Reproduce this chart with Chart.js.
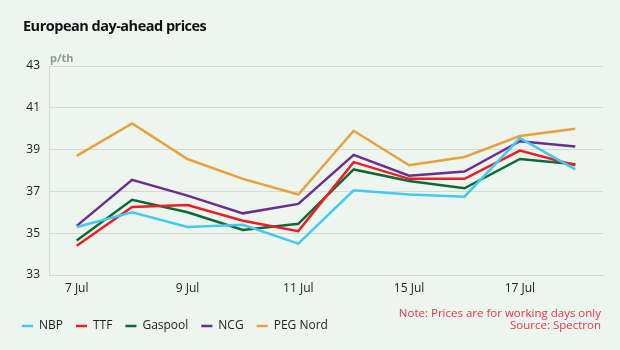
<!DOCTYPE html>
<html>
<head>
<meta charset="utf-8">
<script src="https://cdn.jsdelivr.net/npm/chart.js@4/dist/chart.umd.min.js"></script>
<style>
  html, body { margin: 0; padding: 0; background: #edf5ef; }
  #wrap { position: relative; width: 620px; height: 350px; overflow: hidden; background: #edf5ef; font-family: "Open Sans", "Noto Sans", sans-serif; }
  #title { position: absolute; left: 23px; top: 16px; font-size: 14.5px; line-height: 20px; font-weight: bold; color: #111; letter-spacing: -0.5px; white-space: nowrap; }
  #unit { position: absolute; left: 50px; top: 50px; font-size: 11px; font-weight: bold; color: #8f9894; }
  #note { position: absolute; right: 19px; top: 307px; font-size: 11.5px; color: #e8344a; text-align: right; line-height: 11.5px; white-space: nowrap; }
  #c { position: absolute; left: 0; top: 0; }
</style>
</head>
<body>
<div id="wrap">
  <canvas id="c" width="620" height="350"></canvas>
  <div id="title">European day-ahead prices</div>
  <div id="unit">p/th</div>
  <div id="note">Note: Prices are for working days only<br>Source: Spectron</div>
</div>
<script>
const categories = ['7 Jul','8 Jul','9 Jul','10 Jul','11 Jul','14 Jul','15 Jul','16 Jul','17 Jul','18 Jul'];
const nbp     = [35.3, 36.0, 35.3, 35.4, 34.5, 37.05, 36.85, 36.75, 39.55, 38.05];
const ttf     = [34.4, 36.25, 36.35, 35.6, 35.1, 38.4, 37.6, 37.6, 38.95, 38.25];
const gaspool = [34.65, 36.6, 36.0, 35.15, 35.45, 38.05, 37.5, 37.15, 38.55, 38.3];
const ncg     = [35.35, 37.55, 36.8, 35.95, 36.4, 38.75, 37.75, 37.95, 39.4, 39.15];
const pegNord = [38.7, 40.25, 38.55, 37.6, 36.85, 39.9, 38.25, 38.65, 39.65, 40.0];
const yTicks  = [33, 35, 37, 39, 41, 43];

const font = "'Open Sans', 'Noto Sans', sans-serif";
function ds(label, data, color) {
  return { label, data, borderColor: color, backgroundColor: color, borderWidth: 2.5,
           pointRadius: 0, tension: 0, fill: false };
}
new Chart(document.getElementById('c'), {
  type: 'line',
  data: {
    labels: categories,
    datasets: [
      ds('NBP', nbp, '#45c8f2'),
      ds('TTF', ttf, '#ee1c25'),
      ds('Gaspool', gaspool, '#0b6b38'),
      ds('NCG', ncg, '#6b2d91'),
      ds('PEG Nord', pegNord, '#e9a13b')
    ]
  },
  options: {
    responsive: false,
    animation: false,
    layout: { padding: { left: 9, right: 17, top: 66, bottom: 8 } },
    plugins: {
      tooltip: { enabled: false },
      legend: {
        position: 'bottom',
        align: 'start',
        labels: {
          usePointStyle: true, pointStyle: 'line', pointStyleWidth: 11, boxHeight: 12,
          padding: 13, color: '#222', font: { family: font, size: 12 }
        }
      }
    },
    scales: {
      x: {
        type: 'category',
        offset: true,
        grid: { display: false, drawTicks: false },
        border: { display: true, color: '#d3d9d5', width: 1 },
        ticks: {
          autoSkip: false, maxRotation: 0, padding: 6, color: '#222',
          font: { family: font, size: 12 },
          callback: function(v, i) { return i % 2 === 0 ? categories[i] : ''; }
        },
        afterFit: function(axis) { axis.height = 32; }
      },
      y: {
        min: 33, max: 43,
        afterBuildTicks: function(axis) { axis.ticks = yTicks.map(v => ({ value: v })); },
        grid: { color: '#d3d9d5', lineWidth: 1, drawTicks: false },
        border: { display: true, color: '#d3d9d5', width: 1 },
        ticks: { padding: 9, color: '#222', font: { family: font, size: 12 } },
        afterFit: function(axis) { axis.width = 40; }
      }
    }
  }
});
</script>
</body>
</html>
